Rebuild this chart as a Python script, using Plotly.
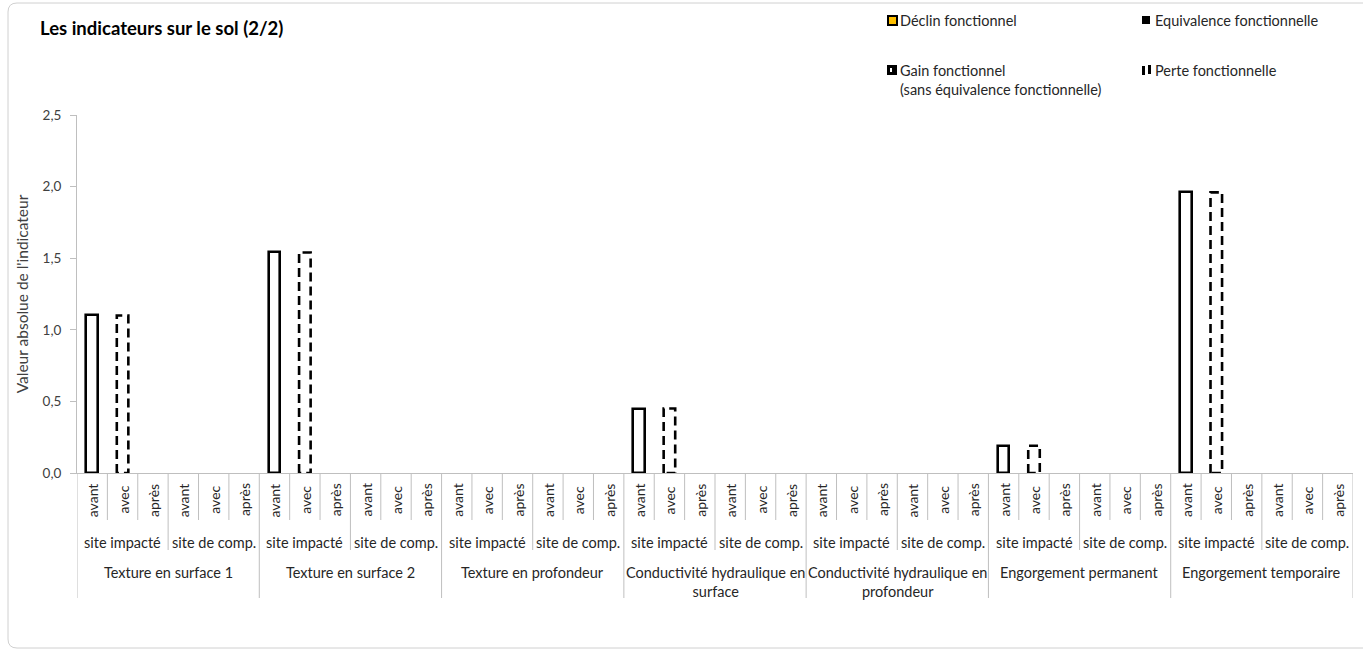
import plotly.graph_objects as go

indicateurs = ["Texture en surface 1", "Texture en surface 2", "Texture en profondeur",
               "Conductivité hydraulique en<br>surface", "Conductivité hydraulique en<br>profondeur",
               "Engorgement permanent", "Engorgement temporaire"]
sites = ["site impacté", "site de comp."]
temps = ["avant", "avec", "après"]

# valeurs du site impacté
avant_impacte = [1.10, 1.54, 0, 0.45, 0, 0.19, 1.96]
perte_avec = [1.10, 1.54, 0, 0.45, 0, 0.19, 1.96]

legende = ["Déclin fonctionnel", "Equivalence fonctionnelle",
           "Gain fonctionnel<br>(sans équivalence fonctionnelle)", "Perte fonctionnelle"]

FONT = "Lato"
TXT = "#262626"
GRIS = "#BFBFBF"

# geometry of the plot area in pixels
L, R, T, B = 77, 1353, 115, 473
W, H = R - L, B - T


def px(x):
    return (x - L) / W


def py(y):
    return (B - y) / H


n = len(indicateurs) * len(sites) * len(temps)
bw = 0.38

fig = go.Figure()

# solid bars : "avant"
xa = [6 * g for g, v in enumerate(avant_impacte) if v > 0]
ya = [v for v in avant_impacte if v > 0]
fig.add_trace(go.Bar(x=xa, y=ya, width=bw, cliponaxis=True,
                     marker=dict(color="white", line=dict(color="black", width=2.6)),
                     showlegend=False))

# dashed bars : "avec" (perte fonctionnelle)
xp = [6 * g + 1 for g, v in enumerate(perte_avec) if v > 0]
yp = [v for v in perte_avec if v > 0]
fig.add_trace(go.Bar(x=xp, y=yp, width=bw, cliponaxis=True, marker=dict(color="white", line=dict(width=0)),
                     showlegend=False))
ox, oy = [], []
for x, v in zip(xp, yp):
    h = bw / 2
    ox += [x - h, x - h, x + h, x + h, x - h, None]
    oy += [0, v, v, 0, 0, None]
fig.add_trace(go.Scatter(x=ox, y=oy, mode="lines", cliponaxis=True,
                         line=dict(color="black", width=2.6, dash="9px,5px"),
                         showlegend=False))

shapes = []
annotations = []

# category separators
for k in range(n + 1):
    if k % 6 == 0:
        y1 = py(598)
    elif k % 3 == 0:
        y1 = py(550)
    else:
        y1 = py(520)
    shapes.append(dict(type="line", xref="x", yref="paper", x0=k - 0.5, x1=k - 0.5, y0=0, y1=y1,
                       line=dict(color=GRIS, width=1)))

# category labels
for i in range(n):
    annotations.append(dict(x=i, y=py(500), xref="x", yref="paper", text=temps[i % 3], textangle=-90,
                            xanchor="center", yanchor="middle", showarrow=False,
                            font=dict(family=FONT, size=14, color=TXT)))
for g, ind in enumerate(indicateurs):
    for s, site in enumerate(sites):
        annotations.append(dict(x=6 * g + 3 * s + 1, y=py(542), xref="x", yref="paper", text=site,
                                xanchor="center", yanchor="middle", showarrow=False,
                                font=dict(family=FONT, size=14.5, color=TXT)))
    annotations.append(dict(x=6 * g + 2.5, y=py(562), xref="x", yref="paper", text=ind, yanchor="top",
                            showarrow=False, font=dict(family=FONT, size=14.5, color=TXT)))

# title
annotations.append(dict(x=px(38), y=py(28), xref="paper", yref="paper", xanchor="left", yanchor="middle",
                        text="<b>Les indicateurs sur le sol (2/2)</b>", showarrow=False,
                        font=dict(family=FONT, size=18.5, color="black")))

# legend (manual)
leg_pos = [(887, 20), (1142, 20), (887, 70), (1142, 70)]
for (lx, ly), lab in zip(leg_pos, legende):
    annotations.append(dict(x=px(lx + 11), y=py(ly - 10), xref="paper", yref="paper", xanchor="left",
                            yanchor="top", align="left", text=lab, showarrow=False,
                            font=dict(family=FONT, size=14.5, color=TXT)))
# Déclin : yellow square
shapes.append(dict(type="rect", xref="paper", yref="paper", x0=px(888), x1=px(897), y0=py(16), y1=py(25),
                   fillcolor="#FFC000", line=dict(color="black", width=2)))
# Equivalence : black square
shapes.append(dict(type="rect", xref="paper", yref="paper", x0=px(1142), x1=px(1150), y0=py(16), y1=py(24),
                   fillcolor="black", line=dict(width=0)))
# Gain : black square with a small white mark
shapes.append(dict(type="rect", xref="paper", yref="paper", x0=px(887), x1=px(897), y0=py(65), y1=py(75),
                   fillcolor="black", line=dict(width=0)))
shapes.append(dict(type="rect", xref="paper", yref="paper", x0=px(890), x1=px(892), y0=py(68), y1=py(72),
                   fillcolor="white", line=dict(width=0)))
# Perte : dashed marker
shapes.append(dict(type="rect", xref="paper", yref="paper", x0=px(1142), x1=px(1145), y0=py(66), y1=py(75),
                   fillcolor="black", line=dict(width=0)))
shapes.append(dict(type="rect", xref="paper", yref="paper", x0=px(1148), x1=px(1151), y0=py(65), y1=py(74),
                   fillcolor="black", line=dict(width=0)))

# rounded chart border
x0, x1, y0, y1 = px(8), px(1372), py(648), py(3)
rx, ry = 9 / W, 9 / H
path = (f"M {x0 + rx},{y1} L {x1 - rx},{y1} Q {x1},{y1} {x1},{y1 - ry} L {x1},{y0 + ry} "
        f"Q {x1},{y0} {x1 - rx},{y0} L {x0 + rx},{y0} Q {x0},{y0} {x0},{y0 + ry} "
        f"L {x0},{y1 - ry} Q {x0},{y1} {x0 + rx},{y1} Z")
shapes.append(dict(type="path", xref="paper", yref="paper", path=path, line=dict(color="#D0D0D0", width=1)))

fig.update_layout(
    width=1363, height=652,
    margin=dict(l=L, r=1363 - R, t=T, b=652 - B, autoexpand=False),
    paper_bgcolor="white", plot_bgcolor="white",
    separators=", ",
    bargap=0,
    hovermode=False,
    shapes=shapes,
    annotations=annotations,
    showlegend=False,
    xaxis=dict(range=[-0.5, n - 0.5], showticklabels=False, ticks="", showgrid=False, zeroline=False,
               showline=True, linecolor=GRIS, linewidth=1),
    yaxis=dict(range=[0, 2.5], dtick=0.5, tickformat=".1f", showgrid=False, zeroline=False,
               showline=True, linecolor=GRIS, linewidth=1, ticks="outside", ticklen=6, tickcolor=GRIS,
               ticklabelstandoff=6,
               tickfont=dict(family=FONT, size=13.5, color="#404040"),
               title=dict(text="Valeur absolue de l'indicateur", standoff=10,
                          font=dict(family=FONT, size=15.5, color="#404040"))),
)

# the page body has a default 8px margin; remove it so the figure sits at the window origin
fig.write_html("out.html", config={"displayModeBar": False},
               post_script="document.body.style.margin='0';")
